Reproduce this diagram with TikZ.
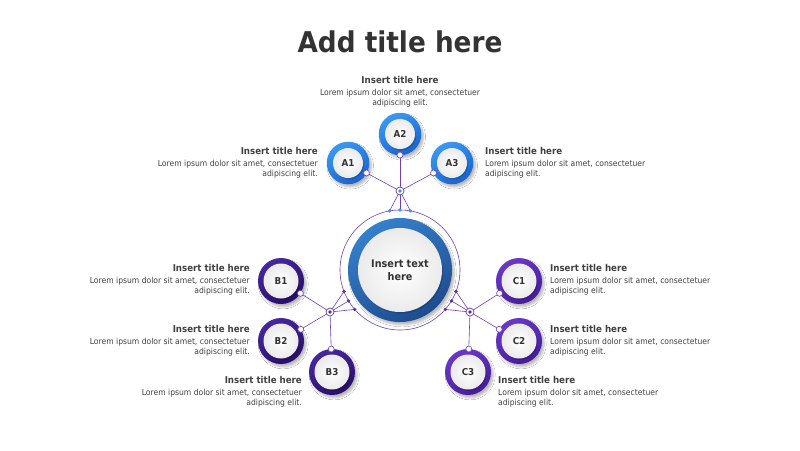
\documentclass[tikz,border=0pt]{standalone}
\usepackage{fontspec}
\setmainfont{DejaVu Sans}[FakeStretch=0.92]
\usetikzlibrary{calc,shadows.blur}
\definecolor{titletext}{HTML}{333333}
\definecolor{bodytext}{HTML}{404040}
\definecolor{conn}{HTML}{6F3FB8}
\definecolor{atop}{HTML}{3A98F2}
\definecolor{abot}{HTML}{1A64CE}
\definecolor{btop}{HTML}{4527A0}
\definecolor{bbot}{HTML}{2A0E6A}
\definecolor{ctop}{HTML}{6A38C8}
\definecolor{cbot}{HTML}{461C9A}
\definecolor{mtop}{HTML}{3580CC}
\definecolor{mbot}{HTML}{1E4C8E}
\definecolor{adot}{HTML}{3D95F0}
\definecolor{pdot}{HTML}{5A2DB0}
\newcommand{\itemtext}{{\bfseries\fontsize{9.4}{11}\selectfont Insert title here}\\[1.5pt]Lorem ipsum dolor sit amet, consectetuer\\adipiscing elit.}
\tikzset{
  bubble/.style n args={4}{circle, inner sep=0pt, minimum size=#1,
    top color=#3, bottom color=#4, shading angle=30,
    blur shadow={shadow xshift=2.2pt, shadow yshift=-2.8pt, shadow blur radius=2pt, shadow blur steps=8, shadow opacity=28},
    font=\bfseries\fontsize{9.5}{11}\selectfont, text=titletext,
    path picture={
      \fill[black, opacity=0.16] ([xshift=1.2pt,yshift=-1.6pt]path picture bounding box.center) circle (#2);
      \shade[inner color=white, outer color=black!8] (path picture bounding box.center) circle (#2);
    }},
  conline/.style={draw=conn, line width=0.6pt},
  joint/.style={circle, draw=conn, fill=white, line width=0.6pt, inner sep=0pt, minimum size=6pt},
  hubnode/.style={circle, draw=conn, fill=white, line width=0.7pt, inner sep=0pt, minimum size=8pt},
  dotnode/.style={circle, fill=#1, inner sep=0pt, minimum size=3.6pt},
  blk/.style={font=\fontsize{8.3}{10.5}\selectfont, text=bodytext, inner sep=0pt},
}
\begin{document}
\begin{tikzpicture}[x=1pt,y=-1pt]
\useasboundingbox[fill=white] (0,0) rectangle (800,450);

% title
\node[font=\bfseries\fontsize{28.6}{33}\selectfont, text=titletext] (title) at (400,42) {Add title here};

% coordinates
\coordinate (M0) at (400,270);
\coordinate (hA) at (400,191);
\coordinate (hB) at (330,312);
\coordinate (hC) at (470,312);
\coordinate (ra1) at (389.6,210.9);
\coordinate (ra2) at (400,210);
\coordinate (ra3) at (410.4,210.9);
\coordinate (rb1) at (344.0,291.5);
\coordinate (rb2) at (348.6,300.9);
\coordinate (rb3) at (354.7,309.4);
\coordinate (rc1) at (456.0,291.5);
\coordinate (rc2) at (451.4,300.9);
\coordinate (rc3) at (445.3,309.4);

% thin outer ring
\draw[conline] (M0) circle (60);

% center bubble
\node[bubble={104pt}{42pt}{mtop}{mbot}, font=\bfseries\fontsize{10.5}{13}\selectfont, align=center] (M) at (M0) {Insert text\\here};

% satellite bubbles
\node[bubble={42.5pt}{15pt}{atop}{abot}] (A1) at (348,163) {A1};
\node[bubble={42.5pt}{15pt}{atop}{abot}] (A2) at (400,134) {A2};
\node[bubble={42.5pt}{15pt}{atop}{abot}] (A3) at (452,163) {A3};
\node[bubble={46pt}{17.5pt}{btop}{bbot}] (B1) at (281,281) {B1};
\node[bubble={46pt}{17.5pt}{btop}{bbot}] (B2) at (281,341) {B2};
\node[bubble={46pt}{17.5pt}{btop}{bbot}] (B3) at (332,372) {B3};
\node[bubble={46pt}{17.5pt}{ctop}{cbot}] (C1) at (519,281) {C1};
\node[bubble={46pt}{17.5pt}{ctop}{cbot}] (C2) at (519,341) {C2};
\node[bubble={46pt}{17.5pt}{ctop}{cbot}] (C3) at (468,372) {C3};

% joint points on bubbles
\coordinate (jA1) at ($(A1.center)!21pt!(hA)$);
\coordinate (jA2) at ($(A2.center)!21pt!(hA)$);
\coordinate (jA3) at ($(A3.center)!21pt!(hA)$);
\coordinate (jB1) at ($(B1.center)!23pt!(hB)$);
\coordinate (jB2) at ($(B2.center)!23pt!(hB)$);
\coordinate (jB3) at ($(B3.center)!23pt!(hB)$);
\coordinate (jC1) at ($(C1.center)!23pt!(hC)$);
\coordinate (jC2) at ($(C2.center)!23pt!(hC)$);
\coordinate (jC3) at ($(C3.center)!23pt!(hC)$);

% connectors
\foreach \h/\a/\b/\c in {hA/jA1/jA2/jA3, hB/jB1/jB2/jB3, hC/jC1/jC2/jC3}{
  \draw[conline] (\h) -- (\a);
  \draw[conline] (\h) -- (\b);
  \draw[conline] (\h) -- (\c);
}
\foreach \h/\a/\b/\c in {hA/ra1/ra2/ra3, hB/rb1/rb2/rb3, hC/rc1/rc2/rc3}{
  \draw[conline] (\h) -- (\a);
  \draw[conline] (\h) -- (\b);
  \draw[conline] (\h) -- (\c);
}

% joint circles
\foreach \j in {jA1,jA2,jA3,jB1,jB2,jB3,jC1,jC2,jC3}{
  \node[joint] at (\j) {};
}
% ring dots
\foreach \r in {ra1,ra2,ra3}{\node[dotnode=adot] at (\r) {};}
\foreach \r in {rb1,rb2,rb3,rc1,rc2,rc3}{\node[dotnode=pdot] at (\r) {};}
% hubs
\node[hubnode] (HA) at (hA) {};
\node[dotnode=adot] at (hA) {};
\node[hubnode] (HB) at (hB) {};
\node[dotnode=pdot] at (hB) {};
\node[hubnode] (HC) at (hC) {};
\node[dotnode=pdot] at (hC) {};

% text blocks
\node[blk, anchor=north, align=center] (tA2) at (400,76) {\itemtext};
\node[blk, anchor=north east, align=right] (tA1) at (318,147) {\itemtext};
\node[blk, anchor=north west, align=left] (tA3) at (485,147) {\itemtext};
\node[blk, anchor=north east, align=right] (tB1) at (250,264) {\itemtext};
\node[blk, anchor=north east, align=right] (tB2) at (250,325) {\itemtext};
\node[blk, anchor=north east, align=right] (tB3) at (302,376) {\itemtext};
\node[blk, anchor=north west, align=left] (tC1) at (550,264) {\itemtext};
\node[blk, anchor=north west, align=left] (tC2) at (550,325) {\itemtext};
\node[blk, anchor=north west, align=left] (tC3) at (498,376) {\itemtext};
\end{tikzpicture}
\end{document}
